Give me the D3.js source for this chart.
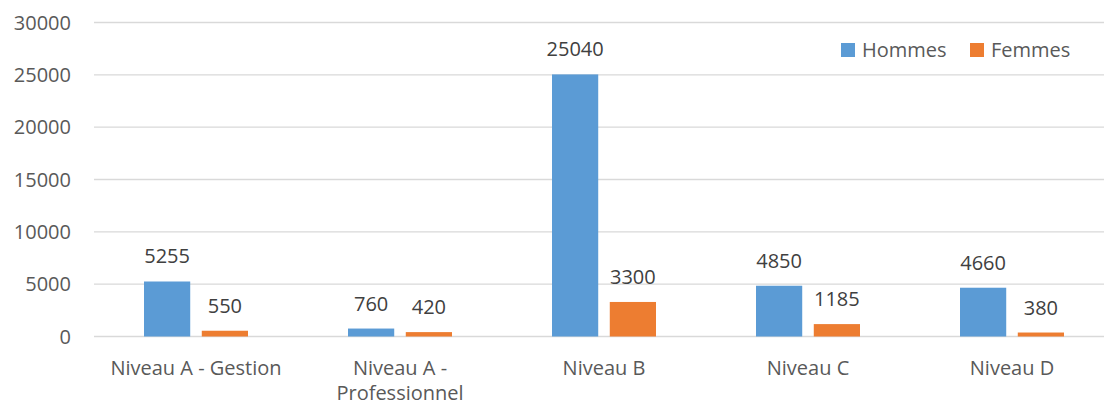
<!DOCTYPE html>
<html>
<head>
<script src="https://d3js.org/d3.v7.min.js"></script>
<style>
    body { margin: 0; background: white; }
    text { font-family: "Open Sans", sans-serif; }
</style>
</head>
<body>
<svg id="chart" width="1104" height="405"></svg>
<script>
// data
const categories = ["Niveau A - Gestion", "Niveau A - Professionnel", "Niveau B", "Niveau C", "Niveau D"];
const labelLines = [["Niveau A - Gestion"], ["Niveau A -", "Professionnel"], ["Niveau B"], ["Niveau C"], ["Niveau D"]];
const series = ["Hommes", "Femmes"];
const hommes = [5255, 760, 25040, 4850, 4660];
const femmes = [550, 420, 3300, 1185, 380];
const yTicks = [0, 5000, 10000, 15000, 20000, 25000, 30000];
const colors = ["#5B9BD5", "#ED7D31"];

const svg = d3.select("#chart");

// scales
const x0 = d3.scaleBand().domain(categories).range([94, 1114]);
const x1 = d3.scaleBand().domain(series).range([50, 154]).paddingInner(0.2);
const y = d3.scaleLinear().domain([0, 30000]).range([336.5, 22.5]);
const color = d3.scaleOrdinal().domain(series).range(colors);

// gridlines
svg.append("g").selectAll("line").data(yTicks).join("line")
   .attr("x1", 94).attr("x2", 1104)
   .attr("y1", d => y(d)).attr("y2", d => y(d))
   .style("stroke", "#d9d9d9")
   .style("stroke-width", "1.3px");

// y labels
svg.append("g").selectAll("text").data(yTicks).join("text")
   .attr("x", 71).attr("y", d => y(d))
   .attr("dy", "0.35em")
   .attr("text-anchor", "end")
   .style("font-size", "20px")
   .style("fill", "#595959")
   .text(d => d);

// bars
const rows = categories.map((c, i) => ({cat: c, vals: [{s: "Hommes", v: hommes[i]}, {s: "Femmes", v: femmes[i]}]}));
const groups = svg.append("g").selectAll("g").data(rows).join("g")
   .attr("transform", d => "translate(" + x0(d.cat) + ",0)");

groups.selectAll("rect").data(d => d.vals).join("rect")
   .attr("x", d => x1(d.s))
   .attr("width", x1.bandwidth())
   .attr("y", d => y(d.v))
   .attr("height", d => y(0) - y(d.v))
   .style("fill", d => color(d.s));

groups.selectAll("text").data(d => d.vals).join("text")
   .attr("x", d => x1(d.s) + x1.bandwidth() / 2)
   .attr("y", d => y(d.v) - 18)
   .attr("text-anchor", "middle")
   .style("font-size", "20px")
   .style("fill", "#404040")
   .text(d => d.v);

// x labels, one text per line
const xg = svg.append("g");
categories.forEach((c, i) => {
    labelLines[i].forEach((line, j) => {
        xg.append("text")
           .attr("x", x0(c) + x0.bandwidth() / 2)
           .attr("y", 375 + j * 25)
           .attr("text-anchor", "middle")
           .style("font-size", "20px")
           .style("fill", "#595959")
           .text(line);
    });
});

// legend
const legend = svg.append("g");
const legendX = [841, 970];
series.forEach((s, i) => {
    legend.append("rect")
       .attr("x", legendX[i]).attr("y", 43)
       .attr("width", 14).attr("height", 14)
       .style("fill", color(s));
    legend.append("text")
       .attr("x", legendX[i] + 21).attr("y", 50)
       .attr("dy", "0.35em")
       .style("font-size", "20px")
       .style("fill", "#595959")
       .text(s);
});
</script>
</body>
</html>
